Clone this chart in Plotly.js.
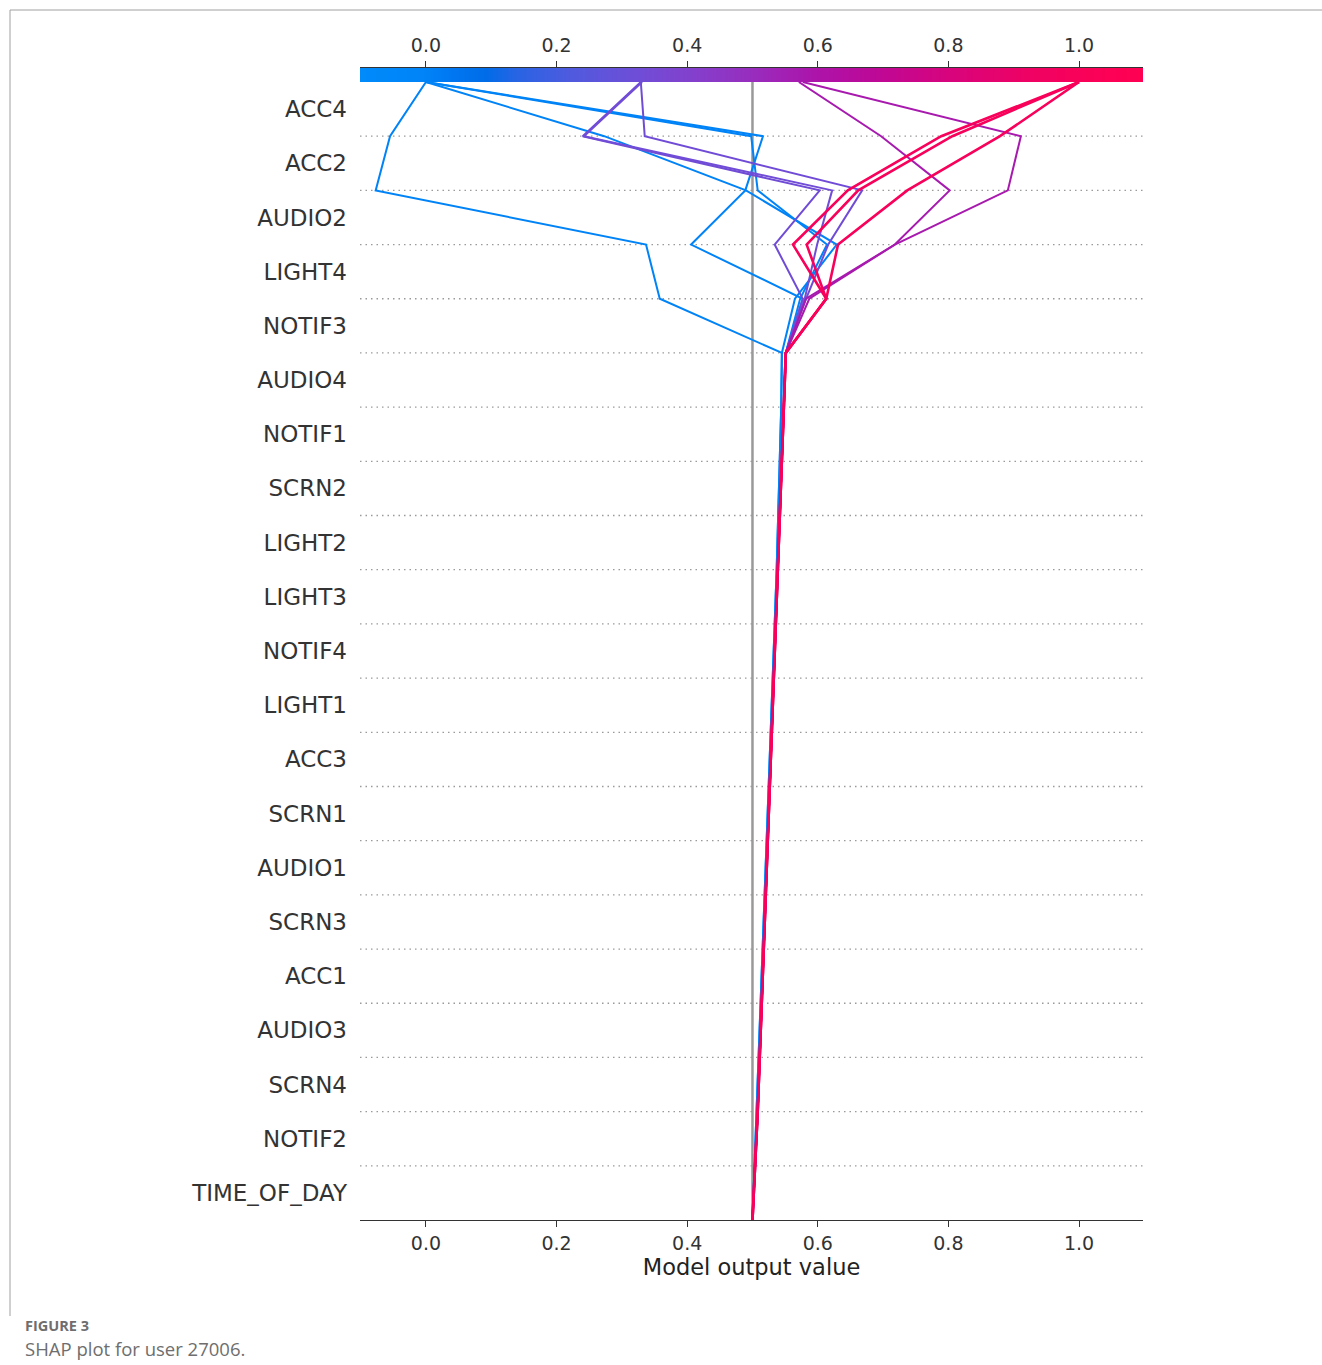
<!DOCTYPE html>
<html>
<head>
<meta charset="utf-8">
<script src="https://cdn.plot.ly/plotly-3.0.1.min.js"></script>
<style>html,body{margin:0;padding:0;background:#fff;}</style>
</head>
<body>
<div id="chart" style="width:1322px;height:1365px;"></div>
<script>
// ---------- DATA ----------
const features = ["ACC4","ACC2","AUDIO2","LIGHT4","NOTIF3","AUDIO4","NOTIF1","SCRN2","LIGHT2","LIGHT3",
  "NOTIF4","LIGHT1","ACC3","SCRN1","AUDIO1","SCRN3","ACC1","AUDIO3","SCRN4","NOTIF2","TIME_OF_DAY"];
const tickVals = [0.0, 0.2, 0.4, 0.6, 0.8, 1.0];
const tickText = ["0.0", "0.2", "0.4", "0.6", "0.8", "1.0"];
const baseValue = 0.5;
const xLimits = [-0.101, 1.098];

// model output read at the boundaries from the top (above ACC4) down to LIGHT4|NOTIF3
const obsBlue1 = [0.000, -0.055, -0.077, 0.337, 0.358];
const obsBlue2 = [0.000, 0.273, 0.490, 0.629, 0.565];
const obsBlue3 = [0.000, 0.498, 0.508, 0.614, 0.573];
const obsBlue4 = [0.000, 0.516, 0.489, 0.406, 0.577];
const obsPurple1 = [0.329, 0.240, 0.603, 0.534, 0.577];
const obsPurple2 = [0.331, 0.242, 0.622, 0.599, 0.580];
const obsPurple3 = [0.329, 0.335, 0.668, 0.616, 0.582];
const obsMagenta1 = [0.571, 0.697, 0.802, 0.718, 0.582];
const obsMagenta2 = [0.577, 0.911, 0.891, 0.718, 0.587];
const obsRed1 = [1.000, 0.789, 0.646, 0.562, 0.613];
const obsRed2 = [1.000, 0.806, 0.662, 0.583, 0.613];
const obsRed3 = [1.000, 0.879, 0.737, 0.631, 0.613];

// model output from the NOTIF3|AUDIO4 boundary down to the base value
const lowerMain = [0.551, 0.548, 0.545, 0.542, 0.539, 0.536, 0.533, 0.530, 0.527, 0.524, 0.521, 0.518, 0.515, 0.512, 0.508, 0.504, 0.500];
const lowerBlue = [0.545, 0.544, 0.542, 0.539, 0.537, 0.534, 0.531, 0.528, 0.525, 0.522, 0.519, 0.516, 0.513, 0.510, 0.507, 0.504, 0.500];

const observations = [
  {upper: obsBlue1, lower: lowerBlue},
  {upper: obsBlue2, lower: lowerBlue},
  {upper: obsBlue3, lower: lowerMain},
  {upper: obsBlue4, lower: lowerMain},
  {upper: obsPurple1, lower: lowerMain},
  {upper: obsPurple2, lower: lowerMain},
  {upper: obsPurple3, lower: lowerMain},
  {upper: obsMagenta1, lower: lowerMain},
  {upper: obsMagenta2, lower: lowerMain},
  {upper: obsRed1, lower: lowerMain},
  {upper: obsRed2, lower: lowerMain},
  {upper: obsRed3, lower: lowerMain}
];

// ---------- STYLE ----------
const cmapStops = [
  [0.00, [0,138,250]], [0.08, [0,132,248]], [0.12, [0,118,240]], [0.16, [0,108,232]],
  [0.20, [40,100,228]], [0.27, [80,90,222]], [0.35, [110,78,215]], [0.42, [130,65,205]],
  [0.50, [152,45,190]], [0.58, [172,20,170]], [0.66, [190,8,150]], [0.75, [215,4,125]],
  [0.85, [238,2,100]], [0.93, [250,1,88]], [1.00, [255,0,82]]
];
const colorscale = cmapStops.map(s => [s[0], `rgb(${s[1][0]},${s[1][1]},${s[1][2]})`]);
function colorAt(f) {
  f = Math.max(0, Math.min(1, f));
  for (let i = 1; i < cmapStops.length; i++) {
    if (f <= cmapStops[i][0]) {
      const a = cmapStops[i-1], b = cmapStops[i];
      const t = (f - a[0]) / (b[0] - a[0]);
      const c = a[1].map((v, k) => Math.round(v + t * (b[1][k] - v)));
      return `rgb(${c[0]},${c[1]},${c[2]})`;
    }
  }
  return colorscale[colorscale.length-1][1];
}

const nF = features.length;
const traces = [];

// colour bar strip (top)
traces.push({
  type: 'heatmap', x: xLimits, y: [0, 1], z: [[0, 1], [0, 1]],
  zmin: 0, zmax: 1, zsmooth: 'best', colorscale: colorscale, showscale: false,
  xaxis: 'x2', yaxis: 'y2', hoverinfo: 'skip'
});

observations.forEach(o => {
  const xs = o.upper.concat(o.lower);
  const ys = xs.map((_, i) => nF - i);
  const finalVal = o.upper[0];
  const f = (finalVal - xLimits[0]) / (xLimits[1] - xLimits[0]);
  traces.push({
    type: 'scatter', mode: 'lines', x: xs, y: ys,
    line: {color: colorAt(f), width: finalVal > 0.9 ? 2.6 : 2},
    xaxis: 'x', yaxis: 'y', hoverinfo: 'skip'
  });
});

// ---------- LAYOUT ----------
const W = 1322, H = 1365;
const mL = 360, mR = 179, mT = 68, mB = 145;
const plotW = W - mL - mR, plotH = H - mT - mB;
const stripPx = 14;
const mainTop = 1 - stripPx / plotH;
const px2x = px => (px - mL) / plotW;
const px2y = py => (H - mB - py) / plotH;

const shapes = [];
for (let k = 1; k < nF; k++) {
  shapes.push({type: 'line', xref: 'x', yref: 'y', x0: xLimits[0], x1: xLimits[1], y0: k, y1: k,
    line: {color: '#9a9a9a', width: 1.3, dash: '1.5px,4px'}, layer: 'below'});
}
shapes.push({type: 'line', xref: 'x', yref: 'y', x0: baseValue, x1: baseValue, y0: 0, y1: nF,
  line: {color: '#999999', width: 2.5}, layer: 'below'});
// journal frame
shapes.push({type: 'line', xref: 'paper', yref: 'paper', x0: px2x(10), x1: px2x(1322), y0: px2y(10), y1: px2y(10),
  line: {color: '#a0a0a0', width: 1}});
shapes.push({type: 'line', xref: 'paper', yref: 'paper', x0: px2x(10), x1: px2x(10), y0: px2y(10), y1: px2y(1316),
  line: {color: '#a0a0a0', width: 1}});

const annotations = [
  {xref: 'paper', yref: 'paper', x: px2x(24), y: px2y(1325), xanchor: 'left', yanchor: 'middle',
   text: '<b>FIGURE 3</b>', showarrow: false, borderpad: 0,
   font: {family: 'Open Sans, DejaVu Sans', size: 14.5, color: '#6e6e6e'}},
  {xref: 'paper', yref: 'paper', x: px2x(24), y: px2y(1348), xanchor: 'left', yanchor: 'middle',
   text: 'SHAP plot for user 27006.', showarrow: false, borderpad: 0,
   font: {family: 'Open Sans, DejaVu Sans', size: 18.5, color: '#6e6e6e'}}
];

const layout = {
  width: W, height: H,
  margin: {l: mL, r: mR, t: mT, b: mB},
  paper_bgcolor: '#ffffff', plot_bgcolor: 'rgba(0,0,0,0)',
  showlegend: false,
  font: {family: 'DejaVu Sans, sans-serif', color: '#333333'},
  xaxis: {
    domain: [0, 1], anchor: 'y', range: xLimits,
    tickvals: tickVals, ticktext: tickText, ticks: 'outside', ticklen: 6, tickwidth: 1, tickcolor: '#333',
    showline: true, linecolor: '#333', linewidth: 1.2, showgrid: false, zeroline: false,
    tickfont: {size: 19, color: '#333'},
    title: {text: 'Model output value', font: {size: 22.5, color: '#222'}, standoff: 6}
  },
  yaxis: {
    domain: [0, mainTop], anchor: 'x', range: [0, nF],
    tickvals: features.map((_, i) => nF - i - 0.5), ticktext: features,
    ticks: '', showgrid: false, zeroline: false, showline: false,
    tickfont: {size: 23, color: '#333'}, ticklabelstandoff: 12
  },
  xaxis2: {
    domain: [0, 1], anchor: 'y2', side: 'top', range: xLimits,
    tickvals: tickVals, ticktext: tickText, ticks: 'outside', ticklen: 6, tickwidth: 1, tickcolor: '#333',
    showline: true, linecolor: '#333', linewidth: 1, showgrid: false, zeroline: false,
    tickfont: {size: 19, color: '#333'}, ticklabelstandoff: 1
  },
  yaxis2: {domain: [mainTop, 1], anchor: 'x2', range: [0, 1], visible: false, fixedrange: true},
  shapes: shapes,
  annotations: annotations
};

Plotly.newPlot('chart', traces, layout, {staticPlot: true, displayModeBar: false});
</script>
</body>
</html>
